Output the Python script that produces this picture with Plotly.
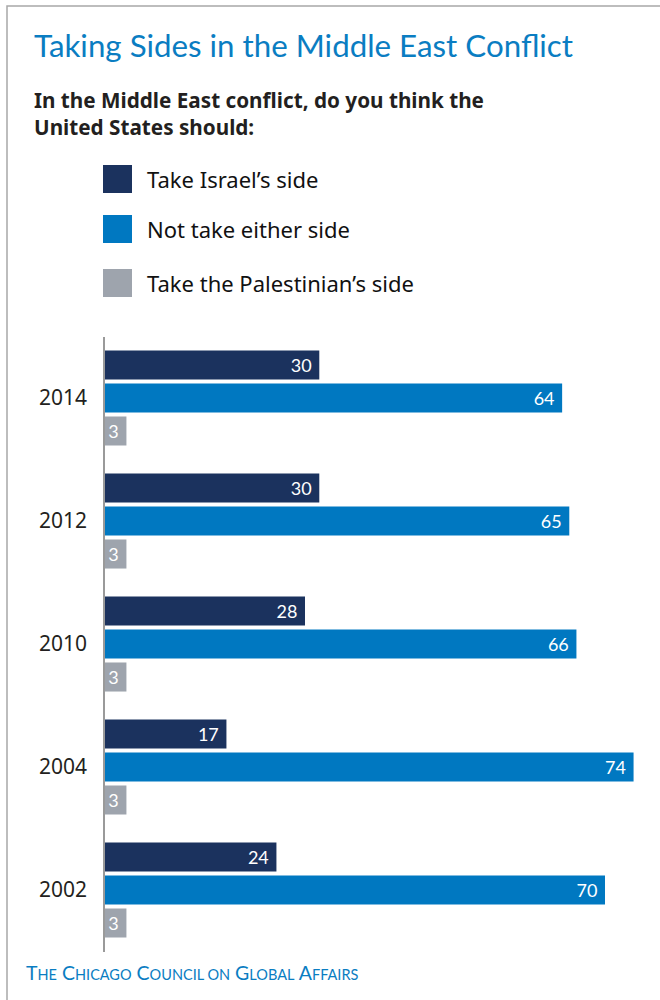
import plotly.graph_objects as go

# Survey results (percent)
years = ["2014", "2012", "2010", "2004", "2002"]
israel = [30, 30, 28, 17, 24]
neither = [64, 65, 66, 74, 70]
palestinian = [3, 3, 3, 3, 3]

series_names = ["Take Israel\u2019s side", "Not take either side", "Take the Palestinian\u2019s side"]
series_colors = ["#1b325e", "#0078c1", "#9ea4ad"]

W, H = 660, 1000
FONT = "Lato"
BODY = "Noto Sans"


def px(x):
    return x / W


def py(y):
    return 1 - y / H


fig = go.Figure()
for name, vals, col in zip(series_names, [israel, neither, palestinian], series_colors):
    fig.add_trace(go.Bar(
        y=years, x=vals, name=name, orientation="h",
        marker=dict(color=col, line=dict(width=0)),
        texttemplate="%{x}\u00a0", textposition="inside", insidetextanchor="end",
        textfont=dict(family=FONT, size=18, color="white"),
        constraintext="none", showlegend=False, hoverinfo="skip",
    ))

fig.update_layout(
    width=W, height=H,
    margin=dict(l=0, r=0, t=0, b=0),
    paper_bgcolor="white", plot_bgcolor="white",
    barmode="group", bargap=0.195, bargroupgap=0.12,
    font=dict(family=FONT, color="#231f20"),
    xaxis=dict(domain=[px(105), px(655)], range=[0, 77], visible=False, fixedrange=True),
    yaxis=dict(
        domain=[py(951.5), py(336.5)],
        type="category", categoryorder="array", categoryarray=years,
        autorange="reversed",
        showline=True, linecolor="#9a9a9a", linewidth=1.5,
        showgrid=False, ticks="", ticklabelstandoff=12,
        tickfont=dict(family=BODY, size=21, color="#231f20"),
    ),
)

shapes = [
    # frame around the graphic
    dict(type="rect", xref="paper", yref="paper",
         x0=px(7), y0=py(6), x1=px(W + 20), y1=py(H + 20),
         line=dict(color="#a8a8a8", width=1.5), fillcolor="rgba(0,0,0,0)"),
]
annotations = [
    dict(text="Taking Sides in the Middle East Conflict", x=px(32), y=py(45),
         font=dict(family=FONT, size=31.3, color="#0a7dc2")),
    dict(text="<b>In the Middle East conflict, do you think the<br>United States should:</b>",
         x=px(32), y=py(114), align="left",
         font=dict(family=BODY, size=20.7, color="#231f20")),
]

legend_y = [179, 229, 283]
for name, col, yc in zip(series_names, series_colors, legend_y):
    shapes.append(dict(type="rect", xref="paper", yref="paper",
                       x0=px(103), x1=px(132), y0=py(yc - 14), y1=py(yc + 14),
                       fillcolor=col, line=dict(width=0)))
    annotations.append(dict(text=name, x=px(145), y=py(yc),
                            font=dict(family=BODY, size=22, color="#111111")))

sc = "font-size:14.5px"
footer = ("T<span style='%s'>HE</span> C<span style='%s'>HICAGO</span> "
          "C<span style='%s'>OUNCIL ON</span> G<span style='%s'>LOBAL</span> "
          "A<span style='%s'>FFAIRS</span>") % (sc, sc, sc, sc, sc)
annotations.append(dict(text=footer, x=px(24), y=py(972),
                        font=dict(family=FONT, size=19.5, color="#0a7dc2")))

for a in annotations:
    a.update(xref="paper", yref="paper", xanchor="left", yanchor="middle", showarrow=False)

fig.update_layout(shapes=shapes, annotations=annotations)
fig.write_html("out.html")
